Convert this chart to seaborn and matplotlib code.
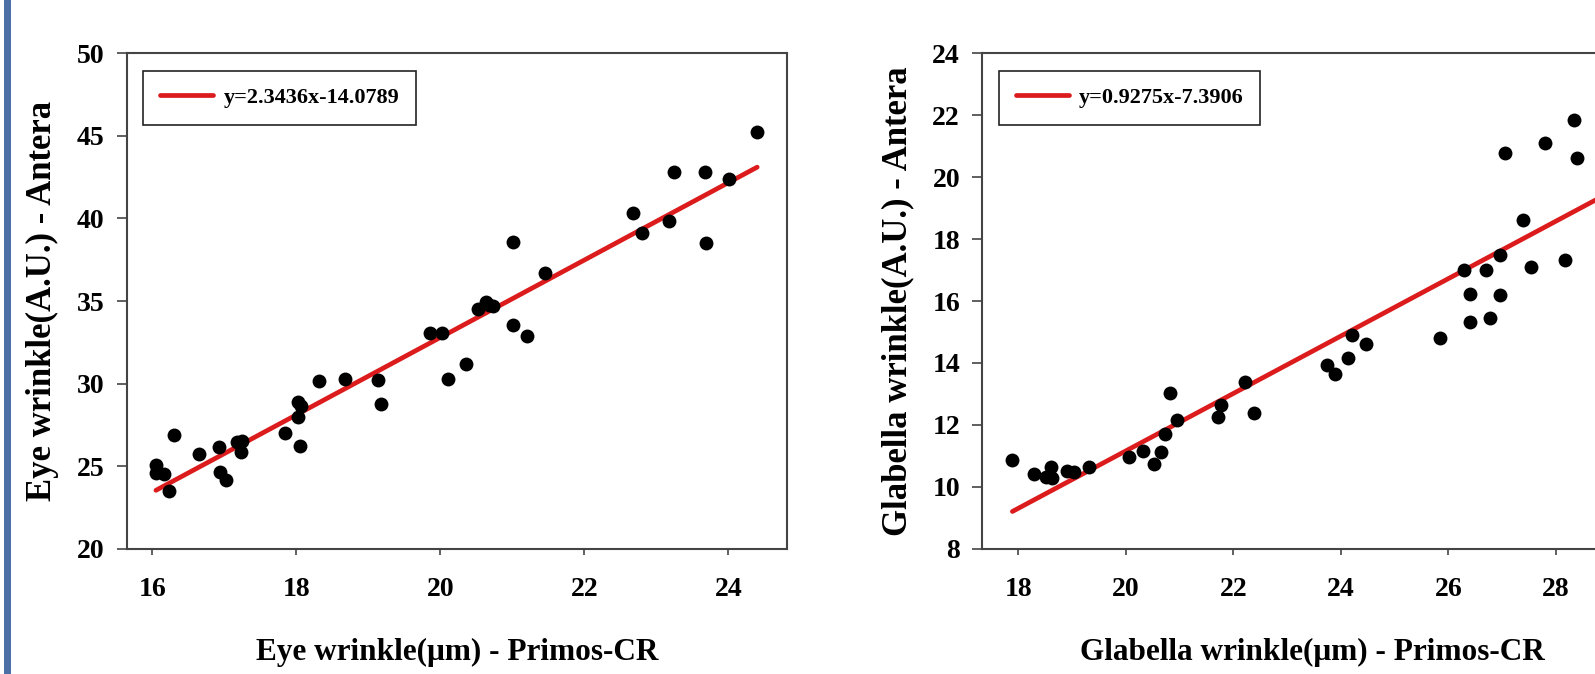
import matplotlib
matplotlib.use('Agg')
import matplotlib.pyplot as plt
import seaborn as sns
import pandas as pd
from matplotlib.patches import Rectangle

# ---------------- data ----------------
eye_primos = [16.05, 16.05, 16.16, 16.23, 16.30, 16.65, 16.92, 16.94, 17.02, 17.18,
              17.25, 17.23, 17.84, 18.02, 18.06, 18.02, 18.05, 18.31, 18.68, 19.14,
              19.17, 19.85, 20.02, 20.10, 20.35, 20.52, 20.63, 20.68, 20.73, 21.01,
              21.01, 21.20, 21.45, 22.68, 22.80, 23.18, 23.25, 23.67, 23.69, 24.01,
              24.40]
eye_antera = [25.05, 24.56, 24.53, 23.49, 26.90, 25.73, 26.17, 24.66, 24.14, 26.48,
              26.54, 25.83, 27.03, 28.91, 28.65, 27.99, 26.20, 30.13, 30.26, 30.21,
              28.75, 33.05, 33.05, 30.26, 31.20, 34.51, 34.92, 34.75, 34.69, 33.52,
              38.59, 32.86, 36.72, 40.31, 39.11, 39.84, 42.84, 42.81, 38.52, 42.37,
              45.21]
eye_slope, eye_intercept = 2.3436, -14.0789

glab_primos = [17.89, 18.29, 18.52, 18.60, 18.63, 18.91, 19.04, 19.32, 20.05, 20.31,
               20.52, 20.66, 20.73, 20.82, 20.95, 21.72, 21.77, 22.22, 22.38, 23.74,
               23.89, 24.14, 24.21, 24.46, 25.84, 26.29, 26.40, 26.40, 26.70, 26.78,
               26.96, 26.95, 27.06, 27.39, 27.54, 27.80, 28.17, 28.33, 28.39, 29.30]
glab_antera = [10.88, 10.40, 10.32, 10.63, 10.29, 10.50, 10.49, 10.64, 10.96, 11.15,
               10.74, 11.13, 11.71, 13.04, 12.15, 12.26, 12.64, 13.40, 12.39, 13.93,
               13.63, 14.17, 14.89, 14.61, 14.81, 17.01, 16.21, 15.32, 16.99, 15.46,
               16.19, 17.49, 20.78, 18.63, 17.10, 21.11, 17.33, 21.83, 20.61, 20.10]
glab_slope, glab_intercept = 0.9275, -7.3906

eye_xticks = [16, 18, 20, 22, 24]
eye_yticks = [20, 25, 30, 35, 40, 45, 50]
glab_xticks = [18, 20, 22, 24, 26, 28]
glab_yticks = [8, 10, 12, 14, 16, 18, 20, 22, 24]

eye_xlabel = "Eye wrinkle(\u03bcm) - Primos-CR"
eye_ylabel = "Eye wrinkle(A.U.) - Antera"
glab_xlabel = "Glabella wrinkle(\u03bcm) - Primos-CR"
glab_ylabel = "Glabella wrinkle(A.U.) - Antera"

# ---------------- style ----------------
sns.set_style('white')
plt.rcParams['font.family'] = ['Liberation Serif', 'DejaVu Serif']
plt.rcParams['font.weight'] = 'bold'
plt.rcParams['text.color'] = 'black'
plt.rcParams['axes.labelcolor'] = 'black'

W, H = 1595, 674
fig = plt.figure(figsize=(W / 100, H / 100), dpi=100)
fig.patch.set_facecolor('white')


def px_axes(l, t, r, b):
    return fig.add_axes([l / W, 1 - b / H, (r - l) / W, (b - t) / H])


ax1 = px_axes(126.7, 53.3, 786.7, 548.7)
ax2 = px_axes(982.3, 53.3, 1642.3, 548.7)

# blue border strip at far left
fig.add_artist(Rectangle((4 / W, 0), 7 / W, 1, transform=fig.transFigure,
                         color='#4c70a6', lw=0))

RED = '#dc1c1c'


def panel(ax, x, y, slope, intercept, xlim, ylim, xticks, yticks,
          xlabel, ylabel):
    fit_x = [min(x), max(x)]
    fit = pd.DataFrame({'x': fit_x, 'y': [slope * v + intercept for v in fit_x]})
    sns.lineplot(data=fit, x='x', y='y', ax=ax, color=RED, lw=3.4,
                 label=f"y={slope}x{intercept}", zorder=2)
    df = pd.DataFrame({'x': x, 'y': y})
    sns.scatterplot(data=df, x='x', y='y', ax=ax, color='black', s=100,
                    linewidth=0, legend=False, zorder=3)
    ax.set_xlim(*xlim)
    ax.set_ylim(*ylim)
    ax.set_xticks(xticks)
    ax.set_yticks(yticks)
    ax.tick_params(axis='y', left=True, direction='out', length=7, width=1.2,
                   pad=9, labelsize=20, color='#444', labelcolor='black')
    ax.tick_params(axis='x', bottom=True, direction='out', length=4.5, width=1.2,
                   pad=16, labelsize=20, color='#444', labelcolor='black')
    for s in ax.spines.values():
        s.set_visible(True)
        s.set_color('#444')
        s.set_linewidth(1.5)
    ax.set_xlabel(xlabel, fontsize=22.5, fontweight='bold', color='black')
    ax.set_ylabel(ylabel, fontsize=25, fontweight='bold', color='black')
    ax.xaxis.set_label_coords(0.5, -0.181)
    ax.yaxis.set_label_coords(-0.103, 0.5)
    leg = ax.legend(loc='upper left', bbox_to_anchor=(16.7 / 660, 1 - 17.7 / 495.4),
                    borderaxespad=0, fancybox=False, edgecolor='#222', framealpha=1,
                    prop={'weight': 'bold', 'size': 16}, handlelength=2.4,
                    handletextpad=0.45, borderpad=0.75, labelcolor='black')
    leg.get_frame().set_linewidth(1.2)


panel(ax1, eye_primos, eye_antera, eye_slope, eye_intercept,
      (15.644, 24.81), (20, 50), eye_xticks, eye_yticks,
      eye_xlabel, eye_ylabel)
panel(ax2, glab_primos, glab_antera, glab_slope, glab_intercept,
      (17.33, 29.605), (8, 24), glab_xticks, glab_yticks,
      glab_xlabel, glab_ylabel)

fig.savefig('out.png', dpi=100)
